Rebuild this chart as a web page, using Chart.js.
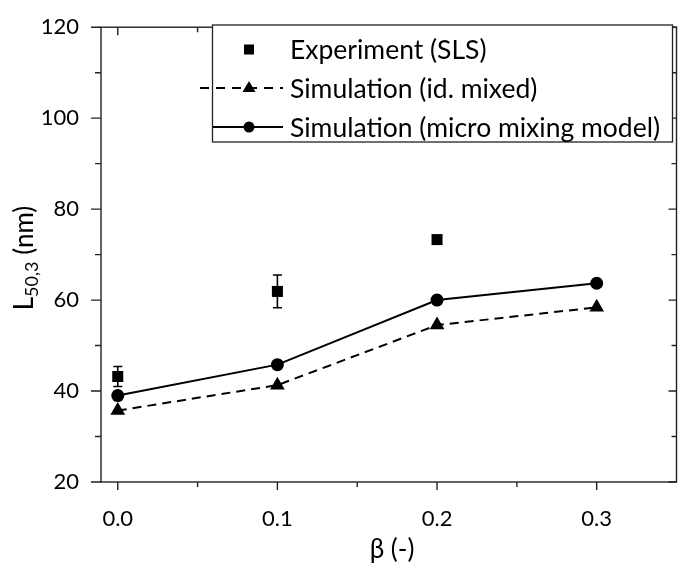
<!DOCTYPE html>
<html>
<head>
<meta charset="utf-8">
<script src="https://cdn.jsdelivr.net/npm/chart.js@4.4.0/dist/chart.umd.min.js"></script>
<style>
  body { margin: 0; background: #fff; }
  #wrap { width: 685px; height: 569px; }
</style>
</head>
<body>
<div id="wrap"><canvas id="chart" width="685" height="569"></canvas></div>
<script>
// données
const betaValues = [0.0, 0.1, 0.2, 0.3];
const betaExp = [0.0, 0.1, 0.2];
const expL = [43.2, 61.9, 73.3];
const expErr = [2.2, 3.6, 0];
const idMixedL = [35.7, 41.3, 54.5, 58.4];
const microMixL = [39.0, 45.8, 60.0, 63.7];

const xMajor = [0.0, 0.1, 0.2, 0.3];
const xMinor = [0.05, 0.15, 0.25];
const yMajor = [20, 40, 60, 80, 100, 120];
const yMinor = [30, 50, 70, 90, 110];

const legendLabels = ['Experiment (SLS)', 'Simulation (id. mixed)', 'Simulation (micro mixing model)'];

const INK = '#000';
const AXIS = '#222';

// barres d'erreur de l'expérience
const errorBars = {
  id: 'errorBars',
  afterDatasetsDraw(chart) {
    const { ctx, scales: { x, y } } = chart;
    ctx.save();
    ctx.strokeStyle = INK;
    ctx.lineWidth = 1.6;
    betaExp.forEach((b, i) => {
      if (!expErr[i]) return;
      const px = x.getPixelForValue(b);
      const top = y.getPixelForValue(expL[i] + expErr[i]);
      const bot = y.getPixelForValue(expL[i] - expErr[i]);
      ctx.beginPath();
      ctx.moveTo(px, top); ctx.lineTo(px, bot);
      ctx.moveTo(px - 4.5, top); ctx.lineTo(px + 4.5, top);
      ctx.moveTo(px - 4.5, bot); ctx.lineTo(px + 4.5, bot);
      ctx.stroke();
    });
    ctx.restore();
  }
};

// cadre, graduations, titres des axes et légende
const frame = {
  id: 'frame',
  afterDraw(chart) {
    const { ctx, chartArea: a, scales: { x, y } } = chart;
    ctx.save();
    ctx.strokeStyle = AXIS;
    ctx.lineWidth = 1.4;
    ctx.strokeRect(a.left, a.top, a.right - a.left, a.bottom - a.top);

    ctx.beginPath();
    xMajor.forEach(v => {
      const p = x.getPixelForValue(v);
      ctx.moveTo(p, a.bottom); ctx.lineTo(p, a.bottom + 8);
      ctx.moveTo(p, a.top); ctx.lineTo(p, a.top + 8);
    });
    xMinor.forEach(v => {
      const p = x.getPixelForValue(v);
      ctx.moveTo(p, a.bottom); ctx.lineTo(p, a.bottom + 5);
      ctx.moveTo(p, a.top); ctx.lineTo(p, a.top + 5);
    });
    yMajor.forEach(v => {
      const p = y.getPixelForValue(v);
      ctx.moveTo(a.left, p); ctx.lineTo(a.left - 10, p);
      ctx.moveTo(a.right, p); ctx.lineTo(a.right - 8, p);
    });
    yMinor.forEach(v => {
      const p = y.getPixelForValue(v);
      ctx.moveTo(a.left, p); ctx.lineTo(a.left - 6, p);
      ctx.moveTo(a.right, p); ctx.lineTo(a.right - 5, p);
    });
    ctx.stroke();

    // titre x
    ctx.fillStyle = INK;
    ctx.font = '26px Lato';
    ctx.textAlign = 'center';
    ctx.textBaseline = 'middle';
    ctx.fillText('β (-)', 392, 550);

    // titre y avec indice
    ctx.save();
    ctx.translate(33, 258);
    ctx.rotate(-Math.PI / 2);
    ctx.textBaseline = 'alphabetic';
    ctx.textAlign = 'left';
    const big = '26px Lato', small = '18px Lato';
    ctx.font = big; const wL = ctx.measureText('L').width;
    ctx.font = small; const wS = ctx.measureText('50,3').width;
    ctx.font = big; const wU = ctx.measureText(' (nm)').width;
    let cx = -(wL + wS + wU) / 2;
    ctx.font = big; ctx.fillText('L', cx, 0); cx += wL;
    ctx.font = small; ctx.fillText('50,3', cx, 5); cx += wS;
    ctx.font = big; ctx.fillText(' (nm)', cx, 0);
    ctx.restore();

    // légende
    const bx = 212.5, by = 25, bw = 460, bh = 117;
    ctx.fillStyle = '#fff';
    ctx.fillRect(bx, by, bw, bh);
    ctx.lineWidth = 1.3;
    ctx.strokeRect(bx, by, bw, bh);
    const rows = [49.5, 88, 127];
    const mx = 249;
    ctx.fillStyle = INK;
    ctx.strokeStyle = INK;
    ctx.lineWidth = 2;
    // carré
    ctx.fillRect(mx - 5, rows[0] - 5, 10, 10);
    // tirets + triangle
    ctx.beginPath();
    ctx.setLineDash([9, 7]);
    ctx.moveTo(200, rows[1]); ctx.lineTo(283, rows[1]);
    ctx.stroke();
    ctx.setLineDash([]);
    ctx.beginPath();
    ctx.moveTo(mx, rows[1] - 7);
    ctx.lineTo(mx + 6.5, rows[1] + 4);
    ctx.lineTo(mx - 6.5, rows[1] + 4);
    ctx.closePath();
    ctx.fill();
    // trait plein + cercle
    ctx.beginPath();
    ctx.moveTo(213, rows[2]); ctx.lineTo(283, rows[2]);
    ctx.stroke();
    ctx.beginPath();
    ctx.arc(mx, rows[2], 5.5, 0, Math.PI * 2);
    ctx.fill();

    ctx.font = '26.5px Lato';
    ctx.textAlign = 'left';
    ctx.textBaseline = 'middle';
    legendLabels.forEach((t, i) => ctx.fillText(t, 290, rows[i] + 1));
    ctx.restore();
  }
};

function draw() {
  Chart.defaults.font.family = 'Lato';
  Chart.defaults.color = INK;

  new Chart(document.getElementById('chart').getContext('2d'), {
    type: 'scatter',
    data: {
      datasets: [
        {
          label: legendLabels[1],
          data: betaValues.map((b, i) => ({ x: b, y: idMixedL[i] })),
          showLine: true,
          borderColor: INK,
          borderWidth: 2,
          borderDash: [9, 6],
          pointStyle: 'triangle',
          pointRadius: 8.5,
          pointBackgroundColor: INK,
          pointBorderColor: INK,
          pointBorderWidth: 0
        },
        {
          label: legendLabels[2],
          data: betaValues.map((b, i) => ({ x: b, y: microMixL[i] })),
          showLine: true,
          borderColor: INK,
          borderWidth: 2,
          pointStyle: 'circle',
          pointRadius: 6.5,
          pointBackgroundColor: INK,
          pointBorderColor: INK,
          pointBorderWidth: 0
        },
        {
          label: legendLabels[0],
          data: betaExp.map((b, i) => ({ x: b, y: expL[i] })),
          showLine: false,
          pointStyle: 'rect',
          pointRadius: 7.8,
          pointBackgroundColor: INK,
          pointBorderColor: INK,
          pointBorderWidth: 0
        }
      ]
    },
    options: {
      responsive: false,
      animation: false,
      clip: false,
      layout: { padding: { top: 13, right: 2, left: 0, bottom: 0 } },
      plugins: { legend: { display: false }, tooltip: { enabled: false } },
      scales: {
        x: {
          type: 'linear',
          min: -0.0105,
          max: 0.35,
          grid: { display: false },
          border: { display: false },
          afterBuildTicks: s => { s.ticks = xMajor.map(v => ({ value: v })); },
          afterFit: s => { s.height = 87; },
          ticks: {
            padding: 16,
            font: { size: 22 },
            color: INK,
            callback: v => v.toFixed(1)
          }
        },
        y: {
          min: 20,
          max: 120,
          grid: { display: false },
          border: { display: false },
          afterBuildTicks: s => { s.ticks = yMajor.map(v => ({ value: v })); },
          afterFit: s => { s.width = 101; },
          ticks: {
            padding: 14,
            font: { size: 22 },
            color: INK
          }
        }
      }
    },
    plugins: [errorBars, frame]
  });
}

document.fonts.load('22px Lato').then(draw, draw);
</script>
</body>
</html>
